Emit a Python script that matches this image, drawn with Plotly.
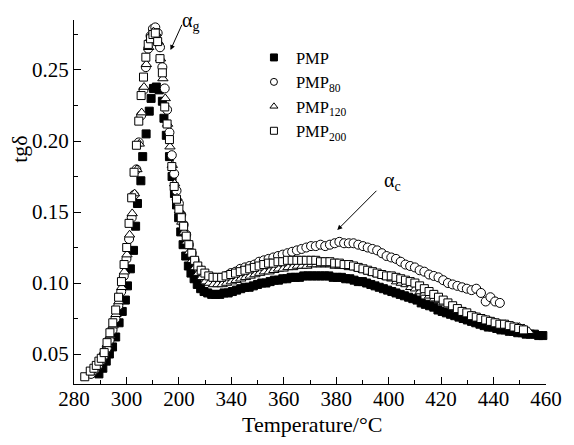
import plotly.graph_objects as go

# ---------------- data ----------------
T_pmp = [289.5, 291.0, 292.3, 293.5, 294.7, 295.9, 297.2, 298.4, 299.6, 300.4, 301.5, 302.7, 303.5, 304.2,
         305.5, 306.2, 307.5, 308.7, 309.4, 310.3, 311.4, 312.5, 313.7, 314.3, 315.2, 316.4, 317.4, 318.3,
         319.1, 319.9, 320.7, 321.6, 322.6, 323.6, 324.6, 325.8, 327.0, 328.3, 329.6, 331.0, 332.5, 334.0,
         335.6, 337.2, 338.8, 340.4, 342.0, 343.6, 345.2, 346.8, 348.4, 350.0, 351.6, 353.2, 354.8, 356.4,
         358.0, 359.6, 361.2, 362.8, 364.4, 366.0, 367.6, 369.2, 370.8, 372.4, 374.0, 375.6, 377.2, 378.8,
         380.4, 382.0, 383.6, 385.2, 386.8, 388.4, 390.0, 391.6, 393.2, 394.8, 396.4, 398.0, 399.6, 401.2,
         402.8, 404.4, 406.0, 407.6, 409.2, 410.8, 412.4, 414.0, 415.6, 417.2, 418.8, 420.4, 422.0, 423.6,
         425.2, 426.8, 428.4, 430.0, 431.6, 433.2, 434.8, 436.4, 438.0, 439.6, 441.2, 442.8, 444.4, 446.0,
         447.6, 449.2, 450.8, 452.4, 454.0, 455.6, 457.2, 458.8]
y_pmp = [0.036, 0.040, 0.045, 0.050, 0.055, 0.062, 0.072, 0.080, 0.088, 0.098, 0.110, 0.123, 0.140, 0.156,
         0.172, 0.189, 0.205, 0.221, 0.230, 0.237, 0.238, 0.236, 0.228, 0.216, 0.204, 0.189, 0.175, 0.163,
         0.155, 0.146, 0.136, 0.127, 0.119, 0.112, 0.107, 0.103, 0.099, 0.096, 0.094, 0.093, 0.092, 0.092,
         0.092, 0.093, 0.093, 0.094, 0.095, 0.096, 0.097, 0.097, 0.098, 0.099, 0.100, 0.100, 0.101, 0.102,
         0.102, 0.103, 0.103, 0.104, 0.104, 0.104, 0.105, 0.105, 0.105, 0.105, 0.105, 0.105, 0.105, 0.104,
         0.104, 0.104, 0.103, 0.103, 0.102, 0.101, 0.101, 0.100, 0.099, 0.098, 0.097, 0.096, 0.095, 0.094,
         0.093, 0.092, 0.091, 0.090, 0.089, 0.088, 0.086, 0.085, 0.084, 0.083, 0.081, 0.080, 0.079, 0.078,
         0.077, 0.076, 0.075, 0.074, 0.073, 0.072, 0.071, 0.070, 0.069, 0.069, 0.068, 0.067, 0.067, 0.066,
         0.066, 0.065, 0.065, 0.064, 0.064, 0.064, 0.063, 0.063]

T_80 = [286.5, 288.0, 289.2, 290.3, 291.4, 292.5, 293.6, 294.7, 295.8, 296.9, 298.0, 299.0, 300.0, 301.0,
        302.0, 302.9, 303.8, 304.7, 305.6, 306.5, 307.4, 308.3, 309.2, 310.1, 311.0, 311.9, 312.8, 313.7,
        314.6, 315.5, 316.4, 317.3, 318.2, 319.1, 320.0, 320.9, 321.8, 322.8, 323.8, 324.9, 326.0, 327.2,
        328.5, 329.9, 331.4, 333.0, 334.6, 336.3, 338.0, 339.8, 341.6, 343.4, 345.2, 347.0, 348.8, 350.6,
        352.4, 354.2, 356.0, 357.8, 359.6, 361.4, 363.2, 365.0, 366.8, 368.6, 370.4, 372.2, 374.0, 375.8,
        377.6, 379.4, 381.2, 383.0, 384.8, 386.6, 388.4, 390.2, 392.0, 393.8, 395.6, 397.4, 399.2, 401.0,
        402.8, 404.6, 406.4, 408.2, 410.0, 411.8, 413.6, 415.4, 417.2, 419.0, 420.8, 422.6, 424.4, 426.2,
        428.0, 429.8, 431.6, 433.4, 435.2, 437.0, 438.8, 440.6, 442.4]
y_80 = [0.036, 0.039, 0.042, 0.045, 0.049, 0.054, 0.060, 0.067, 0.075, 0.084, 0.094, 0.105, 0.117, 0.131,
        0.146, 0.162, 0.180, 0.199, 0.218, 0.236, 0.252, 0.265, 0.274, 0.279, 0.280, 0.276, 0.266, 0.252,
        0.237, 0.222, 0.206, 0.190, 0.177, 0.165, 0.156, 0.148, 0.141, 0.134, 0.127, 0.121, 0.116, 0.111,
        0.108, 0.105, 0.103, 0.102, 0.102, 0.103, 0.105, 0.107, 0.108, 0.110, 0.111, 0.112, 0.113, 0.115,
        0.116, 0.117, 0.118, 0.119, 0.120, 0.121, 0.122, 0.123, 0.124, 0.125, 0.126, 0.126, 0.127, 0.126,
        0.127, 0.128, 0.129, 0.128, 0.128, 0.128, 0.127, 0.126, 0.125, 0.124, 0.123, 0.121, 0.119, 0.118,
        0.117, 0.115, 0.113, 0.112, 0.111, 0.109, 0.108, 0.106, 0.105, 0.104, 0.102, 0.100, 0.099, 0.098,
        0.097, 0.096, 0.095, 0.096, 0.093, 0.087, 0.090, 0.087, 0.086]

T_120 = [286.8, 288.3, 289.4, 290.5, 291.6, 292.7, 293.8, 294.9, 296.0, 297.1, 298.2, 299.2, 300.2, 301.2,
         302.2, 303.1, 304.0, 304.9, 305.8, 306.7, 307.6, 308.5, 309.4, 310.3, 311.2, 312.1, 313.0, 313.9,
         314.8, 315.7, 316.6, 317.5, 318.4, 319.3, 320.2, 321.1, 322.0, 323.0, 324.0, 325.1, 326.2, 327.4,
         328.7, 330.1, 331.6, 333.2, 334.8, 336.5, 338.2, 340.0, 341.8, 343.6, 345.4, 347.2, 349.0, 350.8,
         352.6, 354.4, 356.2, 358.0, 359.8, 361.6, 363.4, 365.2, 367.0, 368.8, 370.6, 372.4, 374.2, 376.0,
         377.8, 379.6, 381.4, 383.2, 385.0, 386.8, 388.6, 390.4, 392.2, 394.0, 395.8, 397.6, 399.4, 401.2,
         403.0, 404.8, 406.6, 408.4, 410.2, 412.0, 413.8, 415.6, 417.4, 419.2, 421.0, 422.8, 424.6, 426.4,
         428.2, 430.0, 431.8, 433.6, 435.4, 437.2, 439.0, 440.8, 442.6, 444.4, 446.2, 448.0, 449.8, 451.6,
         453.4]
y_120 = [0.037, 0.041, 0.044, 0.047, 0.052, 0.057, 0.063, 0.070, 0.078, 0.087, 0.097, 0.108, 0.120, 0.134,
         0.149, 0.163, 0.180, 0.198, 0.220, 0.238, 0.254, 0.266, 0.273, 0.277, 0.276, 0.270, 0.258, 0.244,
         0.230, 0.212, 0.196, 0.183, 0.170, 0.160, 0.151, 0.143, 0.136, 0.129, 0.122, 0.116, 0.111, 0.107,
         0.104, 0.101, 0.100, 0.099, 0.099, 0.099, 0.100, 0.101, 0.102, 0.103, 0.104, 0.105, 0.106, 0.107,
         0.108, 0.108, 0.109, 0.110, 0.110, 0.111, 0.111, 0.112, 0.112, 0.112, 0.113, 0.113, 0.113, 0.113,
         0.113, 0.112, 0.112, 0.112, 0.111, 0.111, 0.110, 0.109, 0.108, 0.107, 0.106, 0.105, 0.104, 0.103,
         0.101, 0.100, 0.099, 0.097, 0.096, 0.094, 0.093, 0.091, 0.089, 0.088, 0.086, 0.084, 0.083, 0.081,
         0.080, 0.078, 0.077, 0.076, 0.075, 0.074, 0.073, 0.072, 0.071, 0.071, 0.070, 0.069, 0.069, 0.068,
         0.066]

T_200 = [284.1, 286.2, 287.6, 288.5, 289.5, 290.4, 291.5, 292.6, 293.7, 294.8, 295.9, 297.0, 298.1, 299.1,
         300.1, 301.0, 302.0, 302.9, 303.8, 304.7, 305.6, 306.5, 307.4, 308.3, 309.2, 310.1, 311.0, 311.9,
         312.8, 313.7, 314.6, 315.5, 316.4, 317.3, 318.2, 319.1, 320.0, 320.9, 321.8, 322.8, 323.8, 324.9,
         326.0, 327.2, 328.5, 329.9, 331.4, 333.0, 334.6, 336.3, 338.0, 339.8, 341.6, 343.4, 345.2, 347.0,
         348.8, 350.6, 352.4, 354.2, 356.0, 357.8, 359.6, 361.4, 363.2, 365.0, 366.8, 368.6, 370.4, 372.2,
         374.0, 375.8, 377.6, 379.4, 381.2, 383.0, 384.8, 386.6, 388.4, 390.2, 392.0, 393.8, 395.6, 397.4,
         399.2, 401.0, 402.8, 404.6, 406.4, 408.2, 410.0, 411.8, 413.6, 415.4, 417.2, 419.0, 420.8, 422.6,
         424.4, 426.2, 428.0, 429.8, 431.6, 433.4, 435.2, 437.0, 438.8, 440.6, 442.4, 444.2, 446.0, 447.8,
         449.6, 451.4]
y_200 = [0.034, 0.038, 0.040, 0.042, 0.045, 0.047, 0.051, 0.058, 0.065, 0.072, 0.081, 0.090, 0.101, 0.113,
         0.125, 0.142, 0.160, 0.178, 0.197, 0.214, 0.232, 0.245, 0.259, 0.268, 0.272, 0.275, 0.276, 0.270,
         0.258, 0.248, 0.224, 0.212, 0.201, 0.182, 0.168, 0.159, 0.152, 0.146, 0.140, 0.133, 0.127, 0.121,
         0.116, 0.112, 0.109, 0.107, 0.105, 0.104, 0.104, 0.104, 0.105, 0.106, 0.107, 0.108, 0.109, 0.110,
         0.111, 0.112, 0.113, 0.114, 0.114, 0.115, 0.115, 0.116, 0.116, 0.116, 0.116, 0.116, 0.116, 0.116,
         0.115, 0.115, 0.115, 0.114, 0.114, 0.113, 0.113, 0.112, 0.111, 0.110, 0.109, 0.108, 0.107, 0.106,
         0.105, 0.105, 0.104, 0.103, 0.102, 0.101, 0.100, 0.098, 0.096, 0.094, 0.092, 0.090, 0.088, 0.086,
         0.084, 0.082, 0.080, 0.079, 0.077, 0.076, 0.075, 0.074, 0.073, 0.072, 0.071, 0.071, 0.070, 0.069,
         0.068, 0.067]

x_tickvals = [280, 300, 320, 340, 360, 380, 400, 420, 440, 460]
x_ticktext = ["280", "300", "200", "340", "360", "380", "400", "420", "440", "460"]
y_tickvals = [0.05, 0.10, 0.15, 0.20, 0.25]
y_ticktext = ["0.05", "0.10", "0.15", "0.20", "0.25"]

series = [
    ("PMP", T_pmp, y_pmp, "square", "black"),
    ("PMP<sub>80</sub>", T_80, y_80, "circle", "white"),
    ("PMP<sub>120</sub>", T_120, y_120, "triangle-up", "white"),
    ("PMP<sub>200</sub>", T_200, y_200, "square", "white"),
]

FONT = "Liberation Serif, Times New Roman, serif"
fig = go.Figure()

for name, xs, ys, sym, fill in series:
    size = 8 if sym == "square" else 9
    fig.add_trace(go.Scatter(
        x=xs, y=ys, mode="markers", showlegend=False, cliponaxis=False,
        marker=dict(symbol=sym, size=size, color=fill, line=dict(color="black", width=1))))

# legend-only entries (smaller symbols, like the reference legend)
for name, xs, ys, sym, fill in series:
    fig.add_trace(go.Scatter(
        x=[None], y=[None], mode="markers", name=name, legendgroup=name,
        marker=dict(symbol=sym, size=7, color=fill, line=dict(color="black", width=1))))

fig.update_layout(
    width=574, height=445,
    margin=dict(l=74, r=17, t=20, b=61),
    paper_bgcolor="white", plot_bgcolor="white",
    font=dict(family=FONT, color="black", size=21),
    legend=dict(x=0.377, y=0.9445, xanchor="left", yanchor="top",
                font=dict(family=FONT, size=16.5), bgcolor="rgba(0,0,0,0)",
                tracegroupgap=0, itemwidth=34, itemclick=False),
    xaxis=dict(range=[280, 460], showline=True, linecolor="black", linewidth=1.3,
               showgrid=False, zeroline=False, ticks="inside", ticklen=7, tickwidth=1.2,
               tickcolor="black", tickvals=x_tickvals, ticktext=x_ticktext,
               tickfont=dict(family=FONT, size=21), ticklabelstandoff=-4,
               minor=dict(ticks="inside", ticklen=4, tickwidth=1.2, tickcolor="black", dtick=10,
                          tick0=280, showgrid=False)),
    yaxis=dict(range=[0.0289, 0.2852], showline=True, linecolor="black", linewidth=1.3,
               showgrid=False, zeroline=False, ticks="inside", ticklen=7, tickwidth=1.2,
               tickcolor="black", tickvals=y_tickvals, ticktext=y_ticktext,
               tickfont=dict(family=FONT, size=21),
               minor=dict(ticks="inside", ticklen=4, tickwidth=1.2, tickcolor="black", dtick=0.025,
                          tick0=0.025, showgrid=False)),
)

# axis titles
fig.add_annotation(text="Temperature/°C", xref="paper", yref="paper", x=0.5045, y=-0.1126,
                   showarrow=False, font=dict(family=FONT, size=22), xanchor="center", yanchor="middle")
fig.add_annotation(text="tgδ", xref="paper", yref="paper", x=-0.117, y=0.6456, textangle=-90,
                   showarrow=False, font=dict(family=FONT, size=22), xanchor="center", yanchor="middle")

# peak labels with arrows
fig.add_annotation(x=316.8, y=0.2641, ax=321.4, ay=0.2829, axref="x", ayref="y", xref="x", yref="y",
                   text="", showarrow=True, arrowhead=2, arrowsize=1, arrowwidth=1, arrowcolor="black")
fig.add_annotation(x=324.5, y=0.997, xref="x", yref="paper", text="α<sub>g</sub>", showarrow=False,
                   font=dict(family=FONT, size=20), xanchor="center", yanchor="middle")
fig.add_annotation(x=380.4, y=0.1373, ax=395.9, ay=0.166, axref="x", ayref="y", xref="x", yref="y",
                   text="", showarrow=True, arrowhead=2, arrowsize=1, arrowwidth=1, arrowcolor="black")
fig.add_annotation(x=401.5, y=0.1715, xref="x", yref="y", text="α<sub>c</sub>", showarrow=False,
                   font=dict(family=FONT, size=20), xanchor="center", yanchor="middle")

fig.write_html("out.html")
